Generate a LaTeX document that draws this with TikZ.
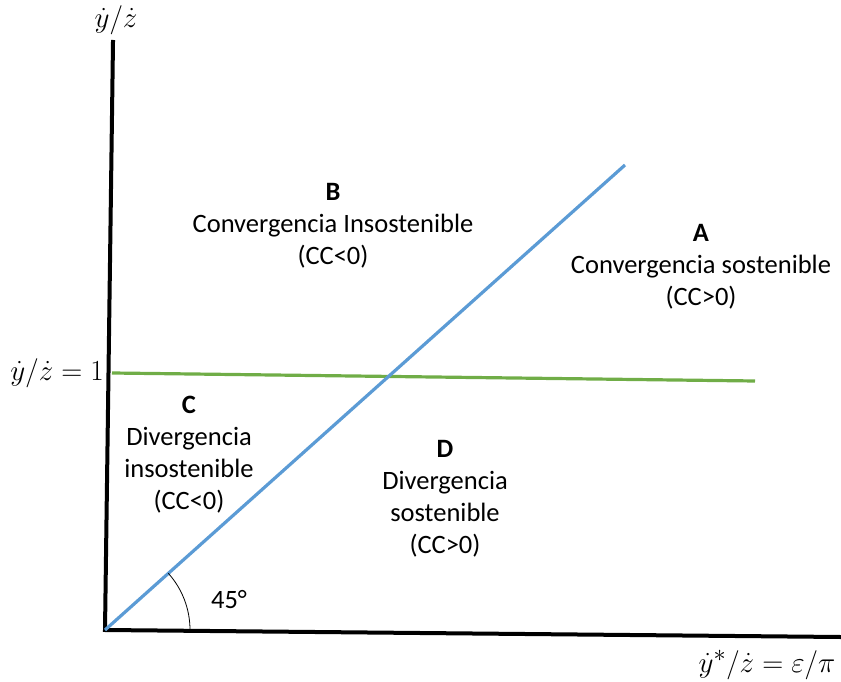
\documentclass[tikz,border=0pt]{standalone}
\usepackage{amsmath}
\usepackage{graphicx}
\usepackage{fontspec}
\setmainfont{Carlito}
\usepackage{xcolor}
\definecolor{lineblue}{HTML}{5B9BD5}
\definecolor{linegreen}{HTML}{70AD47}
\usetikzlibrary{positioning}
\tikzset{
  axisline/.style ={line width=4pt, black, line cap=rect},
  diagline/.style ={line width=3.2pt, lineblue},
  levelline/.style={line width=3.2pt, linegreen},
  zone/.style     ={align=center, inner sep=0pt, font=\fontsize{26.5}{32}\selectfont},
  axlabel/.style  ={inner sep=1pt, font=\fontsize{24.88}{30}\selectfont},
}
\newcommand{\axmath}[1]{\scalebox{1.17}{$#1$}}

\begin{document}
\begin{tikzpicture}[x=1pt, y=1pt]
  \useasboundingbox (0,0) rectangle (841,681);
  % axes
  \coordinate (o)    at (105,51);
  \coordinate (ytop) at (113,639);
  \coordinate (xend) at (840,44);
  \draw[axisline] (ytop) -- (o) -- (xend);
  % lines
  \coordinate (g0) at (112,308);
  \coordinate (g1) at (755,300);
  \coordinate (b1) at (625,516);
  \draw[levelline] (g0) -- (g1);
  \draw[diagline] (o) -- (b1);
  \draw[line width=0.8pt] ([shift={(0:85)}]o) arc[start angle=0, end angle=41.8, radius=85];
  % labels
  \node[axlabel] (ylab) at (116,661) {\axmath{\dot{y}/\dot{z}}};
  \node[axlabel, anchor=east] (onelab) at (105,308) {\axmath{\dot{y}/\dot{z}=1}};
  \node[axlabel] (xlab) at (767,16) {\axmath{\dot{y}^{*}/\dot{z}=\varepsilon/\pi}};
  \node[zone] (angle) at (229,81) {45°};
  % zones
  \node[zone] (zb) at (333,455) {\textbf{B}\\Convergencia Insostenible\\(CC<0)};
  \node[zone] (za) at (701,414) {\textbf{A}\\Convergencia sostenible\\(CC>0)};
  \node[zone] (zc) at (189,226) {\textbf{C}\\Divergencia\\insostenible\\(CC<0)};
  \node[zone] (zd) at (445,182) {\textbf{D}\\Divergencia\\sostenible\\(CC>0)};
\end{tikzpicture}
\end{document}
